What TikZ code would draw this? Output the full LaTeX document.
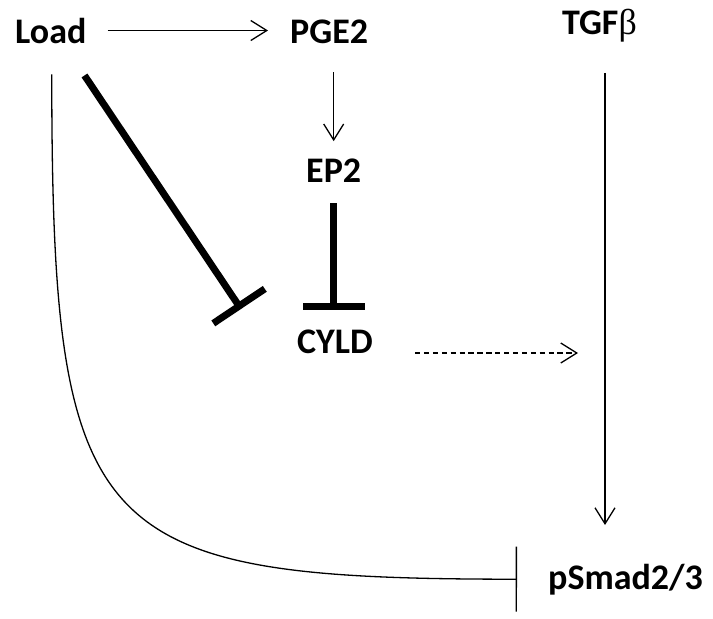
\documentclass[tikz,border=0pt]{standalone}
\usepackage{fontspec}
\setmainfont{Carlito}
\newfontfamily\greekf{Liberation Serif}
\usetikzlibrary{arrows.meta,calc}
\begin{document}
\begin{tikzpicture}[x=1pt,y=-1pt,
  lbl/.style={font=\fontsize{36}{40}\selectfont\bfseries, inner sep=0pt, anchor=base west},
  thinln/.style={line width=1.3pt},
  vee/.style={thinln,-{Straight Barb[length=16pt,width=20pt]}},
  thickinh/.style={line width=7pt,-{Bar[width=62pt]}},
  thininh/.style={thinln,-{Bar[width=65pt]}}]
\useasboundingbox (0,0) rectangle (713,619);
\node[lbl] (load) at (15,43) {Load};
\node[lbl] (pge2) at (290,43) {PGE2};
\node[lbl] (tgf) at (562,34) {TGF{\greekf\mdseries β}};
\node[lbl] (ep2) at (306,182) {EP2};
\node[lbl] (cyld) at (297,353) {CYLD};
\node[lbl] (psmad) at (548,589) {pSmad2/3};
\coordinate (ldin) at (241,309);
\coordinate (psin) at ($(psmad.west)+(-31,0)$);
\coordinate (tgfend) at (605,525);
\coordinate (dashend) at (578,353);
% Load -> PGE2
\draw[vee, shorten <=21pt, shorten >=22pt] (load.east) -- (load.east -| pge2.west);
% PGE2 -> EP2
\draw[vee, shorten <=29pt, shorten >=17pt] (ep2.north |- pge2.south) -- (ep2.north);
% EP2 -| CYLD
\draw[thickinh, shorten <=21pt, shorten >=19pt] (ep2.south) -- (ep2.south |- cyld.north);
% Load -| (near CYLD)
\draw[thickinh] ($(load.south east)+(-2,32)$) -- (ldin);
% Load -| pSmad2/3
\draw[thininh] ($(load.south)+(1,31)$) .. controls (52,540) and (90,579) .. (psin);
% TGFbeta -> pSmad2/3
\draw[vee, shorten <=31pt] (tgf.south -| tgfend) -- (tgfend);
% CYLD --> TGFbeta pathway
\draw[vee, dash pattern=on 5.3pt off 3.6pt, shorten <=42pt] (cyld.base east) -- (dashend);
\end{tikzpicture}
\end{document}
